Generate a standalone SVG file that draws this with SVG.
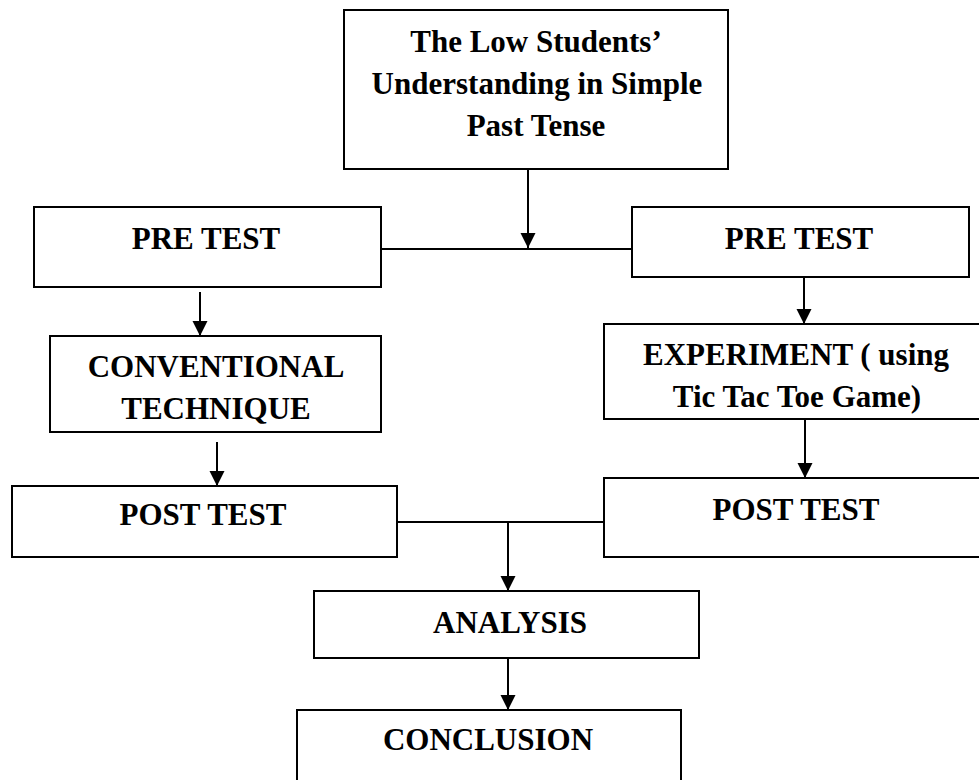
<svg xmlns="http://www.w3.org/2000/svg" width="979" height="780" viewBox="0 0 979 780">
<style>
.box{fill:#fff;stroke:#000;stroke-width:2}
.t{font-family:"Liberation Serif","Times New Roman",serif;font-weight:bold;font-size:31px;fill:#000;text-anchor:middle}
.c{fill:none;stroke:#000;stroke-width:2}
</style>
<defs>
<marker id="ah" markerUnits="userSpaceOnUse" markerWidth="16" markerHeight="16" viewBox="0 0 16 16" refX="15" refY="8" orient="auto">
<path d="M0,0.5 L15,8 L0,15.5 Z" fill="#000"/>
</marker>
</defs>
<rect width="979" height="780" fill="#fff"/>
<g id="connectors">
<line class="c" x1="528" y1="169" x2="528" y2="248" marker-end="url(#ah)"/>
<line class="c" x1="381" y1="249" x2="632" y2="249"/>
<line class="c" x1="200" y1="292" x2="200" y2="336" marker-end="url(#ah)"/>
<line class="c" x1="804" y1="277" x2="804" y2="324" marker-end="url(#ah)"/>
<line class="c" x1="217" y1="442" x2="217" y2="486" marker-end="url(#ah)"/>
<line class="c" x1="805" y1="419" x2="805" y2="478" marker-end="url(#ah)"/>
<line class="c" x1="392" y1="522" x2="604" y2="522"/>
<line class="c" x1="508" y1="522" x2="508" y2="591" marker-end="url(#ah)"/>
<line class="c" x1="508" y1="658" x2="508" y2="710" marker-end="url(#ah)"/>
</g>
<g id="n-problem">
<rect class="box" x="344" y="10" width="384" height="159"/>
<text class="t" x="536" y="52">The Low Students’</text>
<text class="t" x="537" y="94">Understanding in Simple</text>
<text class="t" x="536" y="136">Past Tense</text>
</g>
<g id="n-pretest-left">
<rect class="box" x="34" y="207" width="347" height="80"/>
<text class="t" x="206" y="249">PRE TEST</text>
</g>
<g id="n-pretest-right">
<rect class="box" x="632" y="207" width="337" height="70"/>
<text class="t" x="799" y="249">PRE TEST</text>
</g>
<g id="n-conventional">
<rect class="box" x="50" y="336" width="331" height="96"/>
<text class="t" x="216" y="377">CONVENTIONAL</text>
<text class="t" x="216" y="419">TECHNIQUE</text>
</g>
<g id="n-experiment">
<rect class="box" x="604" y="324" width="390" height="95"/>
<text class="t" x="796" y="365">EXPERIMENT ( using</text>
<text class="t" x="797" y="407">Tic Tac Toe Game)</text>
</g>
<g id="n-posttest-left">
<rect class="box" x="12" y="486" width="385" height="71"/>
<text class="t" x="203" y="525">POST TEST</text>
</g>
<g id="n-posttest-right">
<rect class="box" x="604" y="478" width="390" height="79"/>
<text class="t" x="796" y="520">POST TEST</text>
</g>
<g id="n-analysis">
<rect class="box" x="314" y="591" width="385" height="67"/>
<text class="t" x="510" y="633">ANALYSIS</text>
</g>
<g id="n-conclusion">
<rect class="box" x="297" y="710" width="384" height="80"/>
<text class="t" x="488" y="750">CONCLUSION</text>
</g>
</svg>
